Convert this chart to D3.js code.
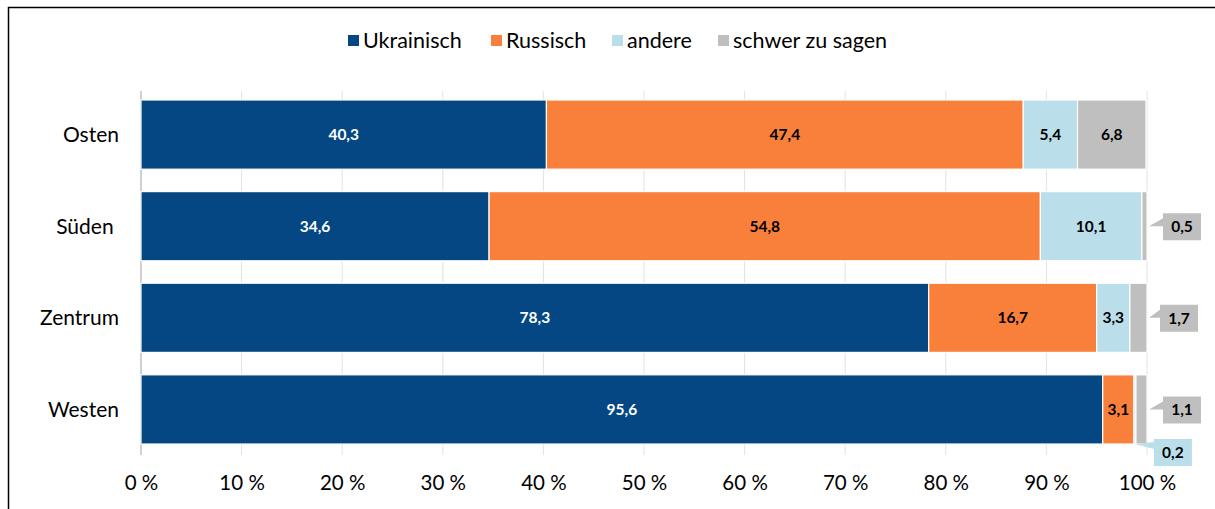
<!DOCTYPE html>
<html>
<head>
<meta charset="utf-8">
<script src="https://cdn.jsdelivr.net/npm/d3@7"></script>
<style>
  body { margin: 0; background: #fff; }
  text { font-family: Lato, "Open Sans", sans-serif; }
</style>
</head>
<body>
<div id="chart"></div>
<script>
const regions = ["Osten", "Süden ", "Zentrum", "Westen"];
const seriesNames = ["Ukrainisch", "Russisch", "andere", "schwer zu sagen"];
const ukrainisch = [40.3, 34.6, 78.3, 95.6];
const russisch = [47.4, 54.8, 16.7, 3.1];
const andere = [5.4, 10.1, 3.3, 0.2];
const schwer = [6.8, 0.5, 1.7, 1.1];
const xTicks = [0, 10, 20, 30, 40, 50, 60, 70, 80, 90, 100];

const colors = ["#044782", "#f9803b", "#bbdfea", "#bfbfbf"];

const width = 1215, height = 509;
const margin = {left: 141, right: 68, top: 89, bottom: 54};

const svg = d3.select("#chart").append("svg")
  .attr("width", width)
  .attr("height", height);

// frame (only top and left edges visible)
svg.append("path")
  .attr("d", `M8.5,${height} V7.5 H${width}`)
  .attr("fill", "none")
  .attr("stroke", "#000")
  .attr("stroke-width", 1.5);

const x = d3.scaleLinear().domain([0, 100]).range([margin.left, width - margin.right]);
const y = d3.scaleBand().domain(regions)
  .range([margin.top, height - margin.bottom])
  .paddingInner(0.245).paddingOuter(0.12);

// grid
svg.append("g")
  .selectAll("line")
  .data(xTicks)
  .join("line")
    .attr("x1", d => x(d)).attr("x2", d => x(d))
    .attr("y1", margin.top + 2).attr("y2", height - margin.bottom)
    .attr("stroke", d => d == 0 ? "#d0d0d0" : "#e2e2e2")
    .attr("stroke-width", d => d == 0 ? 2 : 1);

// x axis labels
const xAxis = svg.append("g")
  .attr("transform", `translate(0,${height - margin.bottom + 17})`)
  .call(d3.axisBottom(x).tickValues(xTicks).tickSize(0).tickFormat(d => d + " %"));
xAxis.select(".domain").remove();
xAxis.selectAll("text")
  .attr("font-family", "Lato, sans-serif")
  .attr("font-size", 20.5)
  .attr("fill", "#000");

// y axis labels
svg.append("g")
  .selectAll("text")
  .data(regions)
  .join("text")
    .attr("x", 119)
    .attr("y", d => y(d) + y.bandwidth() / 2)
    .attr("dy", "0.35em")
    .attr("text-anchor", "end")
    .attr("font-size", 21)
    .style("white-space", "pre")
    .text(d => d);

// stacked data
const rows = regions.map((r, i) => ({region: r, values: [ukrainisch[i], russisch[i], andere[i], schwer[i]]}));
const segs = [];
rows.forEach(row => {
  let acc = 0;
  row.values.forEach((v, k) => {
    segs.push({region: row.region, k: k, v: v, x0: acc, x1: acc + v});
    acc += v;
  });
});

svg.append("g")
  .selectAll("rect")
  .data(segs)
  .join("rect")
    .attr("x", d => x(d.x0))
    .attr("y", d => y(d.region))
    .attr("width", d => x(d.x1) - x(d.x0))
    .attr("height", y.bandwidth())
    .attr("fill", d => colors[d.k])
    .attr("stroke", "#fff")
    .attr("stroke-width", 1.2);

const fmt = v => String(v).replace(".", ",");

// inline labels
svg.append("g")
  .selectAll("text")
  .data(segs.filter(d => d.v >= 2))
  .join("text")
    .attr("x", d => x((d.x0 + d.x1) / 2))
    .attr("y", d => y(d.region) + y.bandwidth() / 2)
    .attr("dy", "0.35em")
    .attr("text-anchor", "middle")
    .attr("font-size", 15.5)
    .attr("font-weight", "bold")
    .attr("fill", d => d.k == 0 ? "#fff" : "#000")
    .text(d => fmt(d.v));

// callouts for small segments
const callouts = segs.filter(d => d.v < 2);
const cg = svg.append("g");
callouts.forEach(d => {
  const bottom = d.k == 2; // "andere" label hangs below the bar
  const tx = bottom ? x(d.x0 + d.v / 2) : x(100) + 2;
  const ty = bottom ? y(d.region) + y.bandwidth() : y(d.region) + y.bandwidth() / 2;
  const bw = 38, bh = 27;
  let bx, by;
  if (bottom) { bx = tx + 19; by = ty - 5; }
  else if (d.region == "Zentrum") { bx = tx + 11; by = ty - 13; }
  else { bx = tx + 14; by = ty - 13; }
  cg.append("path")
    .attr("d", `M${bx},${by} H${bx + bw} V${by + bh} H${bx} V${by + (bottom ? 10 : 13)} L${tx},${ty} L${bx},${by + (bottom ? 3 : 5)} Z`)
    .attr("fill", colors[d.k]);
  cg.append("text")
    .attr("x", bx + bw / 2)
    .attr("y", by + bh / 2)
    .attr("dy", "0.35em")
    .attr("text-anchor", "middle")
    .attr("font-size", 15.5)
    .attr("font-weight", "bold")
    .text(fmt(d.v));
});

// legend
const legendX = [348, 491, 612, 718];
const lg = svg.append("g");
seriesNames.forEach((s, i) => {
  lg.append("rect")
    .attr("x", legendX[i]).attr("y", 35)
    .attr("width", 11).attr("height", 11)
    .attr("fill", colors[i]);
  lg.append("text")
    .attr("x", legendX[i] + 15)
    .attr("y", 40)
    .attr("dy", "0.35em")
    .attr("font-size", 21.5)
    .text(s);
});
</script>
</body>
</html>
